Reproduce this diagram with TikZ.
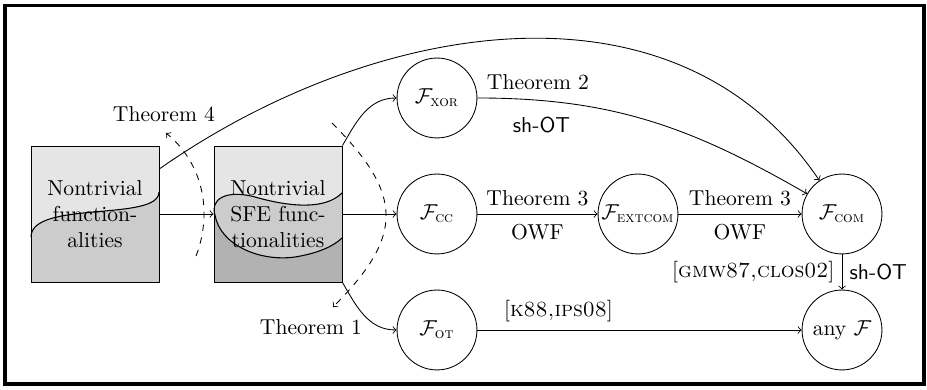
\documentclass[tikz,border=0pt]{standalone}
\usepackage{amsmath}
\begin{document}
\begin{tikzpicture}[x=0.463pt,y=-0.463pt,>=to,
  fn/.style={circle,draw,minimum size=37pt,inner sep=0pt},
  boxnode/.style={rectangle,draw,minimum width=59.3pt,minimum height=63pt,align=center,inner sep=0pt},
  frame/.style={line width=1.6pt},
  wave/.style={draw,line width=0.5pt},
  lightfill/.style={fill=black!10},
  midfill/.style={fill=black!20},
  darkfill/.style={fill=black!30}]
\useasboundingbox (0,0) rectangle (927,390);
\draw[frame] (5,5.5) rectangle (924,384);

% fills of box 1
\fill[lightfill] (31,146) rectangle (159,282);
\fill[midfill] (31,282) -- (31,237) .. controls (31,200) and (159,222) .. (159,192) -- (159,282) -- cycle;
\draw[wave] (31,237) .. controls (31,200) and (159,222) .. (159,192);

% fills of box 2
\fill[lightfill] (214,146) rectangle (342,282);
\fill[midfill] (342,193) .. controls (325,210) and (290,207) .. (255,197)
  .. controls (225,189) and (210,200) .. (215,215)
  .. controls (220,245) and (260,262) .. (295,257)
  .. controls (320,253) and (335,245) .. (342,238) -- cycle;
\fill[darkfill] (214,282) -- (214,215) -- (215,215)
  .. controls (220,245) and (260,262) .. (295,257)
  .. controls (320,253) and (335,245) .. (342,238) -- (342,282) -- cycle;
\draw[wave] (342,193) .. controls (325,210) and (290,207) .. (255,197)
  .. controls (225,189) and (210,200) .. (215,215)
  .. controls (220,245) and (260,262) .. (295,257)
  .. controls (320,253) and (335,245) .. (342,238);

% nodes
\node[boxnode] (b1) at (95,214) {Nontrivial\\function-\\alities};
\node[boxnode] (b2) at (278,214) {Nontrivial\\SFE func-\\tionalities};
\node[fn] (xor) at (437,98) {$\mathcal{F}_{\textsc{xor}}$};
\node[fn] (cc) at (437,214) {$\mathcal{F}_{\textsc{cc}}$};
\node[fn] (ot) at (437,330) {$\mathcal{F}_{\textsc{ot}}$};
\node[fn] (ext) at (638,214) {$\mathcal{F}_{\textsc{extcom}}$};
\node[fn] (com) at (842,214) {$\mathcal{F}_{\textsc{com}}$};
\node[fn] (any) at (842,330) {any $\mathcal{F}$};
\node (t4) at (164,114) {Theorem 4};
\node (t1) at (311,327) {Theorem 1};

% dashed arcs
\coordinate (d4s) at (196,256);
\coordinate (d4e) at (166,133);
\coordinate (d1s) at (332,123);
\coordinate (d1e) at (333,307);
\draw[->,dashed] (d4s) .. controls (212,215) and (205,165) .. (d4e);
\draw[->,dashed] (d1s) to[out=-45,in=45,looseness=1.4] (d1e);

% connectors
\draw[->] (b1) -- (b2);
\draw[->] (b2) -- (cc);
\draw[->] (b2.north east) to[out=60,in=180] (xor);
\draw[->] (b2.south east) to[out=-60,in=180] (ot);
\draw[->] (b1.35) to[out=35,in=124] (com);
\draw[->] (xor) to[out=0,in=150]
  node[pos=0.16,above=1.5pt]{Theorem 2}
  node[pos=0.17,below=4pt]{\textsf{sh-OT}} (com);
\draw[->] (cc) -- node[above]{Theorem 3} node[below=1pt]{OWF} (ext);
\draw[->] (ext) -- node[above]{Theorem 3} node[below=1pt]{OWF} (com);
\draw[->] (com) -- node[left]{[\textsc{gmw87,clos02}]} node[right]{\textsf{sh-OT}} (any);
\draw[->] (ot) -- node[above,pos=0.25]{[\textsc{k88,ips08}]} (any);
\end{tikzpicture}
\end{document}
